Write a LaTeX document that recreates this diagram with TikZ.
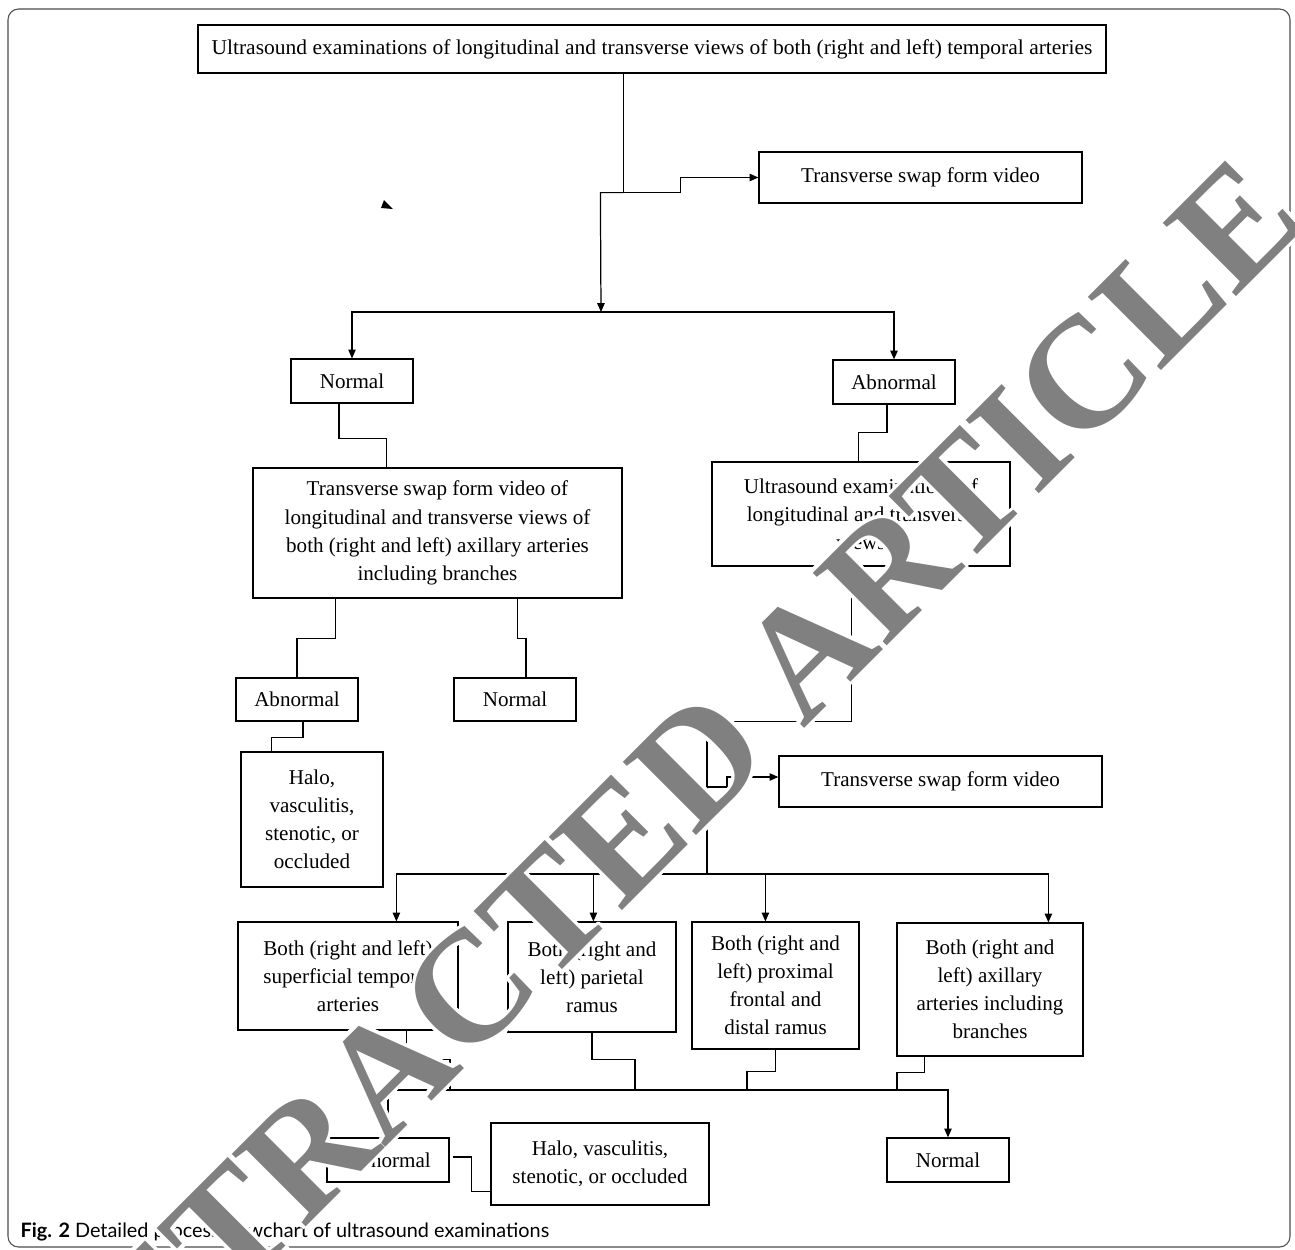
\documentclass[tikz,border=0pt]{standalone}
\usepackage{fontspec}
\setmainfont{Liberation Serif}
\newfontfamily\capfont{Lato}
\usepackage{contour}
\contourlength{2pt}
\usetikzlibrary{arrows.meta,calc}
\definecolor{wmgray}{gray}{0.5}
\begin{document}
\begin{tikzpicture}[x=0.02cm,y=-0.02cm,
  line width=0.7pt,
  bx/.style 2 args={draw, inner sep=0pt, align=center,
     minimum width=#1*0.02cm, minimum height=#2*0.02cm,
     font=\fontsize{12}{16}\selectfont},
  arr/.style={-{Triangle[length=5pt,width=4.2pt]}},
  frame/.style={draw=black!70, line width=0.6pt, rounded corners=6pt}]
\useasboundingbox (0,0) rectangle (1295,1249);
\draw[frame] (8,9) rectangle (1290,1247);

% nodes
\node[bx={908}{48}] (top) at (652,49) {\scalebox{1.02}[1]{Ultrasound examinations of longitudinal and transverse views of both (right and left) temporal arteries}};
\node[bx={323}{51}] (tsv1) at (920.5,177.5) {Transverse swap form video};
\node[bx={122}{44}] (normal1) at (352,381) {Normal};
\node[bx={122}{44}] (abn1) at (894,382) {Abnormal};
\node[bx={369}{130}] (tsvlong) at (437.5,533) {Transverse swap form video of\\longitudinal and transverse views of\\both (right and left) axillary arteries\\including branches};
\node[bx={298}{104}] (usx) at (861,514) {Ultrasound examinations of\\longitudinal and transverse\\views};
\node[bx={122}{43}] (abn2) at (297,699.5) {Abnormal};
\node[bx={122}{43}] (normal2) at (515,699.5) {Normal};
\node[bx={142}{135}] (halo1) at (312,819.5) {Halo,\\vasculitis,\\stenotic, or\\occluded};
\node[bx={323}{51}] (tsv2) at (940.5,781.5) {Transverse swap form video};
\node[bx={220}{108}] (boxA) at (348,976) {Both (right and left)\\superficial temporal\\arteries};
\node[bx={168}{110}] (boxB) at (592,977) {Both (right and\\left) parietal\\ramus};
\node[bx={167}{127}] (boxC) at (775.5,985.5) {Both (right and\\left) proximal\\frontal and\\distal ramus};
\node[bx={186}{133}] (boxD) at (990,989.5) {Both (right and\\left) axillary\\arteries including\\branches};
\node[bx={122}{44}] (abn3) at (388,1160) {Abnormal};
\node[bx={218}{82}] (halo2) at (600,1164) {Halo, vasculitis,\\stenotic, or occluded};
\node[bx={122}{44}] (normal3) at (948,1160) {Normal};

% junctions
\coordinate (j1) at (601,312);
\coordinate (j2) at (707,874);
\coordinate (j3) at (640,1090);

% connectors
\draw[arr] ($(top.south west)+(426,0)$) -- ++(0,119) -- ++(57,0) |- (tsv1.west);
\draw[arr] ($(top.south west)+(426,119)$) -- ++(-23,0) -- (j1);
\draw[arr] (j1) -| (normal1.north);
\draw[arr] (j1) -| (abn1.north);
\draw[line width=1.2pt] ($(j1)+(10,0)$) -- ++(22,0);
\fill (384,200) -- (393,209) -- (381,208) -- cycle;

\draw ($(normal1.south)+(-13,0)$) -- ++(0,35) -| ($(tsvlong.north west)+(134,0)$);
\draw ($(abn1.south)+(-7,0)$) -- ++(0,28) -| ($(usx.north west)+(147,0)$);
\draw ($(tsvlong.south west)+(83,0)$) -- ++(0,40) -| (abn2.north);
\draw ($(tsvlong.south west)+(265,0)$) -- ++(0,40) -| ($(normal2.north)+(11,0)$);
\draw ($(abn2.south)+(6,0)$) -- ++(0,16) -| ($(halo1.north west)+(31,0)$);

\draw ($(usx.south west)+(140,0)$) -- ++(0,155) -| (j2);
\draw[arr] ($(j2)+(0,-87)$) -- ++(20,0) -- ++(0,-10) -- ($(tsv2.west)+(0,-4.5)$);
\draw[arr] (j2) -| ($(boxA.north west)+(159,0)$);
\draw[arr] (j2) -| ($(boxB.north west)+(86,0)$);
\draw[arr] (j2) -| ($(boxC.north west)+(74,0)$);
\draw[arr] (j2) -| ($(boxD.north west)+(152,0)$);

\draw ($(boxA.south west)+(169,0)$) -- ++(0,29) -| ($(j3)+(-190,0)$);
\draw (boxB.south) -- ++(0,27) -| ($(j3)+(-5,0)$);
\draw (boxC.south) -- ++(0,22) -| ($(j3)+(107,0)$);
\draw ($(boxD.south west)+(28,0)$) -- ++(0,16) -| ($(j3)+(257,0)$);
\draw[arr] (j3) -| (abn3.north);
\draw[arr] (j3) -| (normal3.north);
\draw ($(abn3.east)+(3,-3)$) -- ++(19,0) |- ($(halo2.south west)+(0,-14)$);

% caption
\node[anchor=base west, inner sep=0pt, font=\capfont\fontsize{11.3}{13}\selectfont] (cap) at (20,1237) {\textbf{Fig. 2} Detailed process flowchart of ultrasound examinations};

% watermark
\node[rotate=45, inner sep=0pt, font=\bfseries\fontsize{90}{90}\selectfont] (wm) at (656,806) {\contour{white}{\textcolor{wmgray}{RETRACTED ARTICLE}}};
\end{tikzpicture}
\end{document}
